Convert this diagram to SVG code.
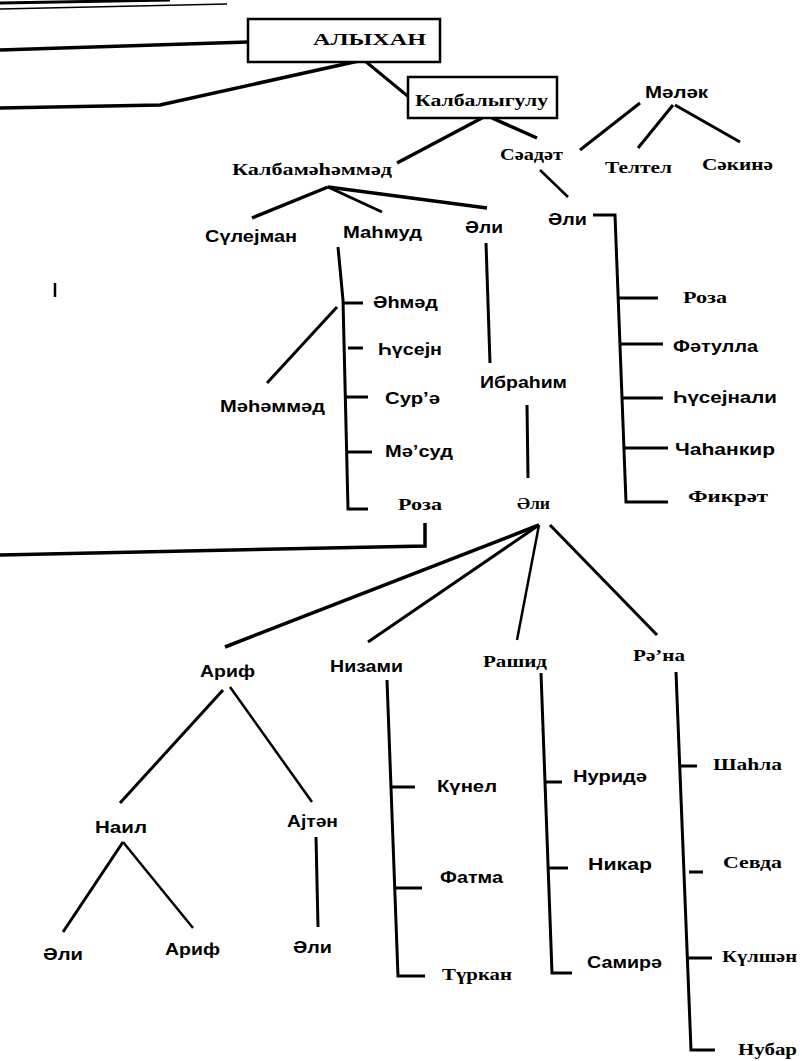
<svg xmlns="http://www.w3.org/2000/svg" width="802" height="1061" viewBox="0 0 802 1061">
<style>
.t{font-family:"Liberation Sans","DejaVu Sans",sans-serif;font-size:17px;font-weight:bold;fill:#000}
.s{font-family:"Liberation Serif","DejaVu Serif",serif;font-size:17px;font-weight:bold;fill:#000}
.c{fill:none;stroke:#000;stroke-width:3;stroke-linecap:butt;stroke-linejoin:miter}
.w{stroke-width:3.5}
.n{stroke-width:2.5}
.box{fill:#fff;stroke:#000;stroke-width:2.5}
</style>
<rect width="802" height="1061" fill="#fff"/>
<g id="connectors">
<line class="c" x1="0" y1="3" x2="170" y2="0"/>
<line class="c" style="stroke-width:1.5" x1="0" y1="9" x2="227" y2="4"/>
<line class="c w" x1="0" y1="50" x2="248" y2="42"/>
<polyline class="c w" points="0,108 160,105 363,60"/>
<line class="c" x1="365" y1="61" x2="410" y2="98"/>
<line class="c w" x1="482" y1="118" x2="397" y2="163"/>
<line class="c w" x1="492" y1="118" x2="537" y2="138"/>
<line class="c n" x1="540" y1="170" x2="568" y2="197"/>
<line class="c" x1="640" y1="103" x2="580" y2="150"/>
<line class="c" x1="673" y1="105" x2="638" y2="148"/>
<line class="c" x1="675" y1="105" x2="740" y2="142"/>
<line class="c w" x1="328" y1="187" x2="252" y2="218"/>
<line class="c" x1="328" y1="187" x2="382" y2="212"/>
<line class="c w" x1="328" y1="187" x2="487" y2="208"/>
<polyline class="c" points="338,247 343,300 348,509 368,509"/>
<line class="c" x1="342" y1="303" x2="363" y2="303"/>
<line class="c" x1="348" y1="348" x2="363" y2="348"/>
<line class="c" x1="345" y1="397" x2="368" y2="397"/>
<line class="c" x1="347" y1="452" x2="372" y2="452"/>
<line class="c" x1="337" y1="307" x2="267" y2="383"/>
<polyline class="c w" points="425,523 425,546 0,555"/>
<line class="c" x1="486" y1="243" x2="490" y2="363"/>
<line class="c" x1="527" y1="405" x2="528" y2="478"/>
<polyline class="c" points="593,215 615,215 626,502 668,502"/>
<line class="c" x1="618" y1="298" x2="658" y2="298"/>
<line class="c" x1="619" y1="344" x2="663" y2="344"/>
<line class="c" x1="622" y1="398" x2="663" y2="398"/>
<line class="c" x1="623" y1="448" x2="668" y2="448"/>
<line class="c w" x1="539" y1="525" x2="225" y2="647"/>
<line class="c" x1="539" y1="525" x2="368" y2="642"/>
<line class="c n" x1="539" y1="525" x2="517" y2="640"/>
<line class="c" x1="550" y1="525" x2="657" y2="635"/>
<line class="c" x1="223" y1="690" x2="120" y2="803"/>
<line class="c n" x1="230" y1="687" x2="312" y2="802"/>
<line class="c" x1="316" y1="837" x2="318" y2="927"/>
<line class="c" x1="123" y1="842" x2="63" y2="932"/>
<line class="c n" x1="123" y1="842" x2="193" y2="928"/>
<polyline class="c" points="387,680 398,976 425,976"/>
<line class="c" x1="392" y1="787" x2="415" y2="787"/>
<line class="c" x1="395" y1="888" x2="422" y2="888"/>
<polyline class="c" points="541,673 552,973 572,973"/>
<line class="c" x1="545" y1="782" x2="562" y2="782"/>
<line class="c" x1="548" y1="868" x2="568" y2="868"/>
<polyline class="c" points="676,672 691,1050 715,1050"/>
<line class="c" x1="679" y1="766" x2="697" y2="766"/>
<line class="c" x1="689" y1="872" x2="703" y2="872"/>
<line class="c" x1="687" y1="958" x2="712" y2="958"/>
<line class="c n" x1="55" y1="283" x2="55" y2="297"/>
</g>
<g id="n-alykhan"><rect class="box" x="248" y="19" width="192" height="43"/><text class="s" x="313" y="45" textLength="113" lengthAdjust="spacingAndGlyphs">АЛЫХАН</text></g>
<g id="n-kalbalygulu"><rect class="box" x="408" y="77" width="149" height="41"/><text class="s" x="415" y="106" textLength="133" lengthAdjust="spacingAndGlyphs">Калбалыгулу</text></g>
<g id="n-malak"><text class="t" x="645" y="98" textLength="63" lengthAdjust="spacingAndGlyphs">Мәләк</text></g>
<g id="n-saadat"><text class="s" x="500" y="160" textLength="63" lengthAdjust="spacingAndGlyphs">Сәадәт</text></g>
<g id="n-teltel"><text class="s" x="605" y="173" textLength="67" lengthAdjust="spacingAndGlyphs">Телтел</text></g>
<g id="n-sakina"><text class="s" x="702" y="170" textLength="71" lengthAdjust="spacingAndGlyphs">Сәкинә</text></g>
<g id="n-kalbamahammad"><text class="s" x="232" y="175" textLength="160" lengthAdjust="spacingAndGlyphs">Калбамәһәммәд</text></g>
<g id="n-suleyman"><text class="t" x="205" y="242" textLength="92" lengthAdjust="spacingAndGlyphs">Сүлејман</text></g>
<g id="n-mahmud"><text class="t" x="343" y="238" textLength="79" lengthAdjust="spacingAndGlyphs">Маһмуд</text></g>
<g id="n-ali1"><text class="t" x="465" y="233" textLength="38" lengthAdjust="spacingAndGlyphs">Әли</text></g>
<g id="n-ali2"><text class="t" x="548" y="225" textLength="39" lengthAdjust="spacingAndGlyphs">Әли</text></g>
<g id="n-ahmad"><text class="t" x="373" y="308" textLength="65" lengthAdjust="spacingAndGlyphs">Әһмәд</text></g>
<g id="n-huseyn"><text class="t" x="378" y="355" textLength="64" lengthAdjust="spacingAndGlyphs">Һүсејн</text></g>
<g id="n-sura"><text class="t" x="385" y="404" textLength="55" lengthAdjust="spacingAndGlyphs">Сур’ә</text></g>
<g id="n-masud"><text class="t" x="385" y="457" textLength="68" lengthAdjust="spacingAndGlyphs">Мә’суд</text></g>
<g id="n-roza1"><text class="s" x="398" y="510" textLength="44" lengthAdjust="spacingAndGlyphs">Роза</text></g>
<g id="n-mahammad"><text class="t" x="220" y="412" textLength="105" lengthAdjust="spacingAndGlyphs">Мәһәммәд</text></g>
<g id="n-ibrahim"><text class="t" x="480" y="388" textLength="87" lengthAdjust="spacingAndGlyphs">Ибраһим</text></g>
<g id="n-roza2"><text class="s" x="683" y="303" textLength="44" lengthAdjust="spacingAndGlyphs">Роза</text></g>
<g id="n-fatulla"><text class="t" x="673" y="352" textLength="85" lengthAdjust="spacingAndGlyphs">Фәтулла</text></g>
<g id="n-huseynali"><text class="t" x="673" y="403" textLength="104" lengthAdjust="spacingAndGlyphs">Һүсејнали</text></g>
<g id="n-jahangir"><text class="t" x="675" y="455" textLength="100" lengthAdjust="spacingAndGlyphs">Чаһанкир</text></g>
<g id="n-fikrat"><text class="s" x="688" y="502" textLength="80" lengthAdjust="spacingAndGlyphs">Фикрәт</text></g>
<g id="n-ali3"><text class="s" x="517" y="509" textLength="33" lengthAdjust="spacingAndGlyphs">Әли</text></g>
<g id="n-arif1"><text class="t" x="200" y="677" textLength="55" lengthAdjust="spacingAndGlyphs">Ариф</text></g>
<g id="n-nizami"><text class="t" x="330" y="672" textLength="73" lengthAdjust="spacingAndGlyphs">Низами</text></g>
<g id="n-rashid"><text class="s" x="483" y="667" textLength="64" lengthAdjust="spacingAndGlyphs">Рашид</text></g>
<g id="n-rana"><text class="s" x="633" y="661" textLength="52" lengthAdjust="spacingAndGlyphs">Рә’на</text></g>
<g id="n-nail"><text class="t" x="95" y="833" textLength="52" lengthAdjust="spacingAndGlyphs">Наил</text></g>
<g id="n-aytan"><text class="t" x="287" y="827" textLength="51" lengthAdjust="spacingAndGlyphs">Ајтән</text></g>
<g id="n-ali4"><text class="t" x="43" y="960" textLength="40" lengthAdjust="spacingAndGlyphs">Әли</text></g>
<g id="n-arif2"><text class="t" x="165" y="955" textLength="55" lengthAdjust="spacingAndGlyphs">Ариф</text></g>
<g id="n-ali5"><text class="t" x="293" y="953" textLength="39" lengthAdjust="spacingAndGlyphs">Әли</text></g>
<g id="n-gunel"><text class="t" x="437" y="792" textLength="60" lengthAdjust="spacingAndGlyphs">Күнел</text></g>
<g id="n-fatma"><text class="t" x="440" y="883" textLength="63" lengthAdjust="spacingAndGlyphs">Фатма</text></g>
<g id="n-turkan"><text class="s" x="442" y="980" textLength="70" lengthAdjust="spacingAndGlyphs">Түркан</text></g>
<g id="n-nurida"><text class="t" x="573" y="782" textLength="74" lengthAdjust="spacingAndGlyphs">Нуридә</text></g>
<g id="n-nigar"><text class="t" x="588" y="870" textLength="64" lengthAdjust="spacingAndGlyphs">Никар</text></g>
<g id="n-samira"><text class="t" x="587" y="968" textLength="75" lengthAdjust="spacingAndGlyphs">Самирә</text></g>
<g id="n-shahla"><text class="s" x="713" y="770" textLength="69" lengthAdjust="spacingAndGlyphs">Шаһла</text></g>
<g id="n-sevda"><text class="s" x="723" y="868" textLength="59" lengthAdjust="spacingAndGlyphs">Севда</text></g>
<g id="n-gulshan"><text class="s" x="722" y="962" textLength="75" lengthAdjust="spacingAndGlyphs">Күлшән</text></g>
<g id="n-nubar"><text class="s" x="738" y="1055" textLength="59" lengthAdjust="spacingAndGlyphs">Нубар</text></g>
</svg>
